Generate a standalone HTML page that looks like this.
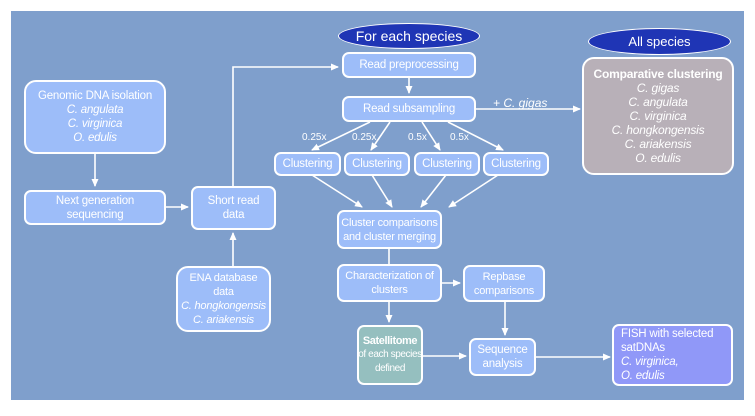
<!DOCTYPE html>
<html><head><style>
body{margin:0;width:755px;height:416px;background:#fff;position:relative;overflow:hidden;font-family:"Liberation Sans",sans-serif}
#bg{position:absolute;left:11px;top:11px;width:733px;height:389px;background:#7f9fcc}
.b{position:absolute;box-sizing:border-box;border:2px solid #fff;border-radius:7px;background:#9dbdf9;color:#fff;font-size:11.5px;line-height:14px;text-align:center;display:flex;flex-direction:column;justify-content:center;align-items:center;white-space:nowrap;letter-spacing:-0.2px}
.r{border-radius:12px}
i{font-style:italic}
.e{position:absolute;background:#1f35b5;border:1.5px solid #fff;border-radius:50%;color:#fff;font-size:14px;display:flex;align-items:center;justify-content:center;box-sizing:border-box}
.l{position:absolute;color:#fff;font-size:10px;white-space:nowrap}
svg{position:absolute;left:0;top:0}
</style></head><body>
<div id="bg"></div>
<svg width="755" height="416"><defs><marker id="a" markerWidth="8" markerHeight="8" refX="7" refY="4" orient="auto" markerUnits="userSpaceOnUse"><path d="M0,0.5 L8,4 L0,7.5z" fill="#fff"/></marker></defs>
<g stroke="#fff" stroke-width="1.6" fill="none" marker-end="url(#a)">
<path d="M95,154 V186"/>
<path d="M166,207 H188"/>
<path d="M233,186 V67 H338"/>
<path d="M233,266 V233"/>
<path d="M409,78 V93"/>
<path d="M476,109 H580"/>
<path d="M370,122 L312,150"/>
<path d="M390,122 L371,150"/>
<path d="M422,122 L440,150"/>
<path d="M448,122 L503,150"/>
<path d="M312,175 L362,207"/>
<path d="M372,175 L392,207"/>
<path d="M446,175 L421,207"/>
<path d="M498,175 L449,207"/>
<path d="M442,283 H460"/>
<path d="M389,301 V322"/>
<path d="M505,301 V335"/>
<path d="M423,356 H466"/>
<path d="M536,357 H610"/>
</g>
<path d="M389,249 V264" stroke="#fff" stroke-width="1.6"/>
</svg>
<div class="e" style="left:338px;top:23px;width:142px;height:26px">For each species</div>
<div class="e" style="left:588px;top:28px;width:143px;height:27px;font-size:13px">All species</div>
<div class="b r" style="left:24px;top:80px;width:142px;height:74px">Genomic DNA isolation<i>C. angulata</i><i>C. virginica</i><i>O. edulis</i></div>
<div class="b" style="left:24px;top:190px;width:142px;height:35px">Next generation<br>sequencing</div>
<div class="b" style="left:191px;top:186px;width:85px;height:44px">Short read<br>data</div>
<div class="b r" style="left:176px;top:266px;width:95px;height:66px;font-size:11px">ENA database<br>data<i>C. hongkongensis</i><i>C. ariakensis</i></div>
<div class="b" style="left:342px;top:52px;width:134px;height:26px">Read preprocessing</div>
<div class="b" style="left:342px;top:96px;width:134px;height:26px">Read subsampling</div>
<div class="l" style="left:493px;top:96px;font-size:12px"><i>+ C. gigas</i></div>
<div class="l" style="left:302px;top:132px">0.25x</div>
<div class="l" style="left:352px;top:132px">0.25x</div>
<div class="l" style="left:408px;top:132px">0.5x</div>
<div class="l" style="left:450px;top:132px">0.5x</div>
<div class="b" style="left:274px;top:152px;width:67px;height:24px">Clustering</div>
<div class="b" style="left:344px;top:152px;width:66px;height:24px">Clustering</div>
<div class="b" style="left:414px;top:152px;width:66px;height:24px">Clustering</div>
<div class="b" style="left:483px;top:152px;width:66px;height:24px">Clustering</div>
<div class="b r" style="left:582px;top:57px;width:152px;height:118px;background:#b8b0b8;font-size:12px;line-height:14px"><b>Comparative clustering</b><i>C. gigas</i><i>C. angulata</i><i>C. virginica</i><i>C. hongkongensis</i><i>C. ariakensis</i><i>O. edulis</i></div>
<div class="b" style="left:337px;top:210px;width:105px;height:39px;font-size:11px">Cluster comparisons<br>and cluster merging</div>
<div class="b" style="left:337px;top:264px;width:105px;height:38px;font-size:11px">Characterization of<br>clusters</div>
<div class="b" style="left:463px;top:265px;width:82px;height:37px;font-size:11px">Repbase<br>comparisons</div>
<div class="b" style="left:357px;top:325px;width:66px;height:60px;background:#95bfbf;font-size:10px;letter-spacing:-0.4px"><b style="font-size:11px">Satellitome</b>of each species<br>defined</div>
<div class="b" style="left:469px;top:338px;width:67px;height:38px">Sequence<br>analysis</div>
<div class="b" style="left:612px;top:324px;width:121px;height:62px;background:#9098f8;align-items:flex-start;text-align:left;padding-left:7px">FISH with selected<br>satDNAs<i>C. virginica,</i><i>O. edulis</i></div>
</body></html>
